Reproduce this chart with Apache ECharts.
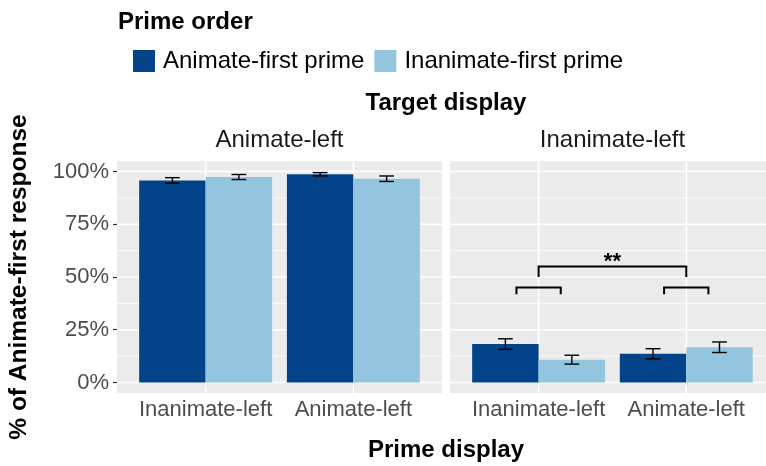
<!DOCTYPE html>
<html>
<head>
<meta charset="utf-8">
<script src="https://cdn.jsdelivr.net/npm/echarts@6/dist/echarts.min.js"></script>
<style>
  html, body { margin: 0; padding: 0; background: #ffffff; }
  #chart { width: 766px; height: 466px; }
</style>
</head>
<body>
<div id="chart"></div>
<script>
// Categories
const primeDisplays = ['Inanimate-left', 'Animate-left'];
const targetDisplays = ['Animate-left', 'Inanimate-left'];
const primeOrders = ['Animate-first prime', 'Inanimate-first prime'];

// Mean % of animate-first responses, per prime display (one array per panel and prime order)
const animateFirstInAnimateLeft = [95.8, 98.7];
const inanimateFirstInAnimateLeft = [97.4, 96.6];
const animateFirstInInanimateLeft = [18.2, 13.6];
const inanimateFirstInInanimateLeft = [10.8, 16.7];

// Standard errors for the same cells
const seAnimateFirstInAnimateLeft = [1.3, 0.8];
const seInanimateFirstInAnimateLeft = [1.2, 1.3];
const seAnimateFirstInInanimateLeft = [2.5, 2.4];
const seInanimateFirstInInanimateLeft = [2.1, 2.5];

// Y axis ticks
const yTicks = [0, 25, 50, 75, 100];
const yTickLabels = ['0%', '25%', '50%', '75%', '100%'];

// Significance brackets in the Inanimate-left panel: [from, to, bar level, leg end]
const brackets = [[0.85, 1.15, 45, 41.8], [1.85, 2.15, 45, 41.8], [1, 2, 55, 50]];
const sigLabels = [[1.5, 57, '**']];

const DARK = '#03438A';
const LIGHT = '#93C5DF';
const FONT = 'Liberation Sans, Arial, sans-serif';
const DODGE = 0.225;     // half of the dodged group width, in axis units
const CAP = 0.1;         // error bar cap width, in axis units

const chart = echarts.init(document.getElementById('chart'), null, { renderer: 'canvas' });

// Panel grid lines: majors on ticks, minors half-way between
const minorTicks = yTicks.slice(1).map((v, i) => (v + yTicks[i]) / 2);
const hGridRows = yTicks.map(v => [v, 1]).concat(minorTicks.map(v => [v, 0]));
const vGridRows = primeDisplays.map((_, i) => [i + 1, 1]);

function renderHGrid(params, api) {
  const cs = params.coordSys;
  const y = api.coord([1, api.value(0)])[1];
  return {
    type: 'line',
    shape: { x1: cs.x, y1: y, x2: cs.x + cs.width, y2: y },
    style: { stroke: '#ffffff', lineWidth: api.value(1) ? 1.6 : 0.8 }
  };
}
function renderVGrid(params, api) {
  const cs = params.coordSys;
  const x = api.coord([api.value(0), 0])[0];
  return {
    type: 'line',
    shape: { x1: x, y1: cs.y, x2: x, y2: cs.y + cs.height },
    style: { stroke: '#ffffff', lineWidth: 1.6 }
  };
}
function renderErrorBar(params, api) {
  const x = api.value(0) + api.value(3) * DODGE;
  const mean = api.value(1), se = api.value(2);
  const top = api.coord([x, mean + se]);
  const bot = api.coord([x, mean - se]);
  const half = api.size([CAP, 0])[0] / 2;
  const style = { stroke: '#000000', lineWidth: 1.4 };
  return {
    type: 'group',
    children: [
      { type: 'line', shape: { x1: top[0], y1: top[1], x2: bot[0], y2: bot[1] }, style },
      { type: 'line', shape: { x1: top[0] - half, y1: top[1], x2: top[0] + half, y2: top[1] }, style },
      { type: 'line', shape: { x1: bot[0] - half, y1: bot[1], x2: bot[0] + half, y2: bot[1] }, style }
    ]
  };
}
function renderBracket(params, api) {
  const a = api.coord([api.value(0), api.value(3)]);
  const b = api.coord([api.value(0), api.value(2)]);
  const c = api.coord([api.value(1), api.value(2)]);
  const d = api.coord([api.value(1), api.value(3)]);
  return {
    type: 'polyline',
    shape: { points: [a, b, c, d] },
    style: { stroke: '#000000', lineWidth: 2, fill: null }
  };
}
function renderSigLabel(params, api) {
  const p = api.coord([api.value(0), api.value(1)]);
  return {
    type: 'text',
    x: p[0], y: p[1],
    style: {
      text: sigLabels[params.dataIndex][2],
      fontSize: 22, fontWeight: 'bold', fontFamily: FONT, fill: '#000000',
      align: 'center', verticalAlign: 'middle'
    }
  };
}

function errorRows(means, ses, side) {
  return means.map((m, i) => [i + 1, m, ses[i], side]);
}
function barRows(means) {
  return means.map((m, i) => [i + 1, m]);
}

const panels = [
  { a: animateFirstInAnimateLeft, b: inanimateFirstInAnimateLeft, sa: seAnimateFirstInAnimateLeft, sb: seInanimateFirstInAnimateLeft },
  { a: animateFirstInInanimateLeft, b: inanimateFirstInInanimateLeft, sa: seAnimateFirstInInanimateLeft, sb: seInanimateFirstInInanimateLeft }
];

const series = [];
panels.forEach((p, k) => {
  series.push(
    { type: 'custom', xAxisIndex: k, yAxisIndex: k, z: 1, silent: true, renderItem: renderHGrid, data: hGridRows, encode: { y: 0 } },
    { type: 'custom', xAxisIndex: k, yAxisIndex: k, z: 1, silent: true, renderItem: renderVGrid, data: vGridRows, encode: { x: 0 } },
    { type: 'bar', name: primeOrders[0], xAxisIndex: k, yAxisIndex: k, z: 2, data: barRows(p.a),
      barWidth: '45%', barGap: '0%', itemStyle: { color: DARK } },
    { type: 'bar', name: primeOrders[1], xAxisIndex: k, yAxisIndex: k, z: 2, data: barRows(p.b),
      barWidth: '45%', barGap: '0%', itemStyle: { color: LIGHT } },
    { type: 'custom', xAxisIndex: k, yAxisIndex: k, z: 3, silent: true, renderItem: renderErrorBar,
      data: errorRows(p.a, p.sa, -1).concat(errorRows(p.b, p.sb, 1)), encode: { x: 0, y: 1 } }
  );
});
series.push(
  { type: 'custom', xAxisIndex: 1, yAxisIndex: 1, z: 3, silent: true, renderItem: renderBracket,
    data: brackets, encode: { x: [0, 1], y: [2, 3] } },
  { type: 'custom', xAxisIndex: 1, yAxisIndex: 1, z: 3, silent: true, renderItem: renderSigLabel,
    data: sigLabels.map(r => [r[0], r[1]]), encode: { x: 0, y: 1 } }
);

const xAxisBase = {
  type: 'value', min: 0.4, max: 2.6,
  axisLine: { show: false },
  splitLine: { show: false },
  axisTick: { show: true, customValues: [1, 2], length: 4, lineStyle: { color: '#333333', width: 1.2 } },
  axisLabel: {
    customValues: [1, 2], margin: 6, fontSize: 22, color: '#4D4D4D', fontFamily: FONT,
    formatter: v => primeDisplays[Math.round(v) - 1]
  }
};
const yAxisBase = {
  type: 'value', min: -5, max: 105,
  axisLine: { show: false },
  splitLine: { show: false }
};

const option = {
  animation: false,
  backgroundColor: '#ffffff',
  textStyle: { fontFamily: FONT },
  grid: [
    { left: 117, width: 325, top: 161, bottom: 73, show: true, backgroundColor: '#EBEBEB', borderWidth: 0, containLabel: false },
    // the right panel runs past the page edge: only the part up to x = 2.54 is visible
    { left: 450, right: 0, top: 161, bottom: 73, show: true, backgroundColor: '#EBEBEB', borderWidth: 0, containLabel: false }
  ],
  xAxis: [
    Object.assign({ gridIndex: 0 }, xAxisBase),
    Object.assign({ gridIndex: 1 }, xAxisBase, { max: 2.54 })
  ],
  yAxis: [
    Object.assign({ gridIndex: 0 }, yAxisBase, {
      axisTick: { show: true, customValues: yTicks, length: 4, lineStyle: { color: '#333333', width: 1.2 } },
      axisLabel: {
        customValues: yTicks, margin: 8, fontSize: 22, color: '#4D4D4D', fontFamily: FONT,
        formatter: v => yTickLabels[yTicks.indexOf(v)]
      },
      name: '% of Animate-first response',
      nameLocation: 'middle', nameRotate: 90, nameGap: 85,
      nameTextStyle: { fontSize: 24.5, fontWeight: 'bold', color: '#000000', fontFamily: FONT }
    }),
    Object.assign({ gridIndex: 1 }, yAxisBase, {
      axisTick: { show: false }, axisLabel: { show: false }
    })
  ],
  legend: {
    data: primeOrders,
    left: 128, top: 44,
    itemWidth: 22, itemHeight: 22, itemGap: 10,
    icon: 'rect',
    selectedMode: false,
    textStyle: { fontSize: 24, color: '#000000', fontFamily: FONT, padding: [0, 0, 0, 3] }
  },
  graphic: [
    { type: 'text', x: 118, y: 22, style: { text: 'Prime order', fontSize: 24, fontWeight: 'bold', fill: '#000000', fontFamily: FONT, align: 'left', verticalAlign: 'middle' } },
    { type: 'text', x: 446, y: 103, style: { text: 'Target display', fontSize: 24, fontWeight: 'bold', fill: '#000000', fontFamily: FONT, align: 'center', verticalAlign: 'middle' } },
    { type: 'text', x: 279.5, y: 140, style: { text: targetDisplays[0], fontSize: 24, fill: '#1A1A1A', fontFamily: FONT, align: 'center', verticalAlign: 'middle' } },
    { type: 'text', x: 612.5, y: 140, style: { text: targetDisplays[1], fontSize: 24, fill: '#1A1A1A', fontFamily: FONT, align: 'center', verticalAlign: 'middle' } },
    { type: 'text', x: 446, y: 450, style: { text: 'Prime display', fontSize: 24, fontWeight: 'bold', fill: '#000000', fontFamily: FONT, align: 'center', verticalAlign: 'middle' } }
  ],
  series: series
};

chart.setOption(option);
</script>
</body>
</html>
